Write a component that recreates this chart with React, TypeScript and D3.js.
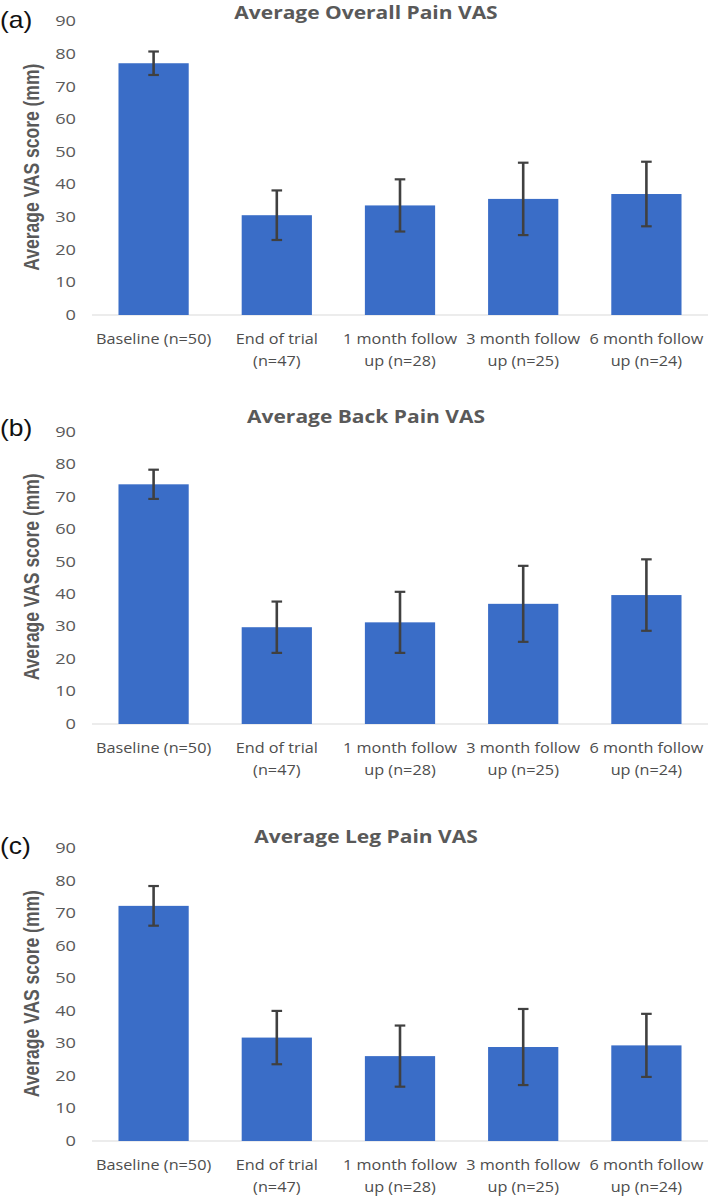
import React from "react";
import * as d3 from "d3";

const categories: string[][] = [
  ["Baseline (n=50)"],
  ["End of trial", "(n=47)"],
  ["1 month follow", "up (n=28)"],
  ["3 month follow", "up (n=25)"],
  ["6 month follow", "up (n=24)"],
];
const yTicks = [0, 10, 20, 30, 40, 50, 60, 70, 80, 90];

const titles = ["Average Overall Pain VAS", "Average Back Pain VAS", "Average Leg Pain VAS"];
const panelLabels = ["(a)", "(b)", "(c)"];
const yAxisTitle = "Average VAS score (mm)";

const overallMean = [77.2, 30.6, 33.6, 35.6, 37.1];
const overallErr = [3.6, 7.6, 8.0, 11.1, 9.9];
const backMean = [73.8, 29.8, 31.3, 37.0, 39.7];
const backErr = [4.5, 7.9, 9.4, 11.7, 11.0];
const legMean = [72.3, 31.8, 26.1, 28.9, 29.4];
const legErr = [6.1, 8.2, 9.4, 11.7, 9.7];

const seriesMeans = [overallMean, backMean, legMean];
const seriesErrs = [overallErr, backErr, legErr];

// layout per panel
const layouts = [
  { top: 21.5, bottom: 315, titleY: 12.5, labelY: 20 },
  { top: 431.7, bottom: 724, titleY: 416.5, labelY: 428 },
  { top: 848.3, bottom: 1141, titleY: 836.5, labelY: 846 },
];

const W = 709;
const H = 1198;
const plotLeft = 92;
const plotRight = 708;
const titleCX = 366;
const BAR = "#3a6dc7";
const ERR = "#404040";
const GREY = "#595959";
const SANS = "'Open Sans', sans-serif";
const ARIAL = "'Liberation Sans', Arial, sans-serif";

function Panel({ idx }: { idx: number }) {
  const L = layouts[idx];
  const means = seriesMeans[idx];
  const errs = seriesErrs[idx];
  const x = d3
    .scaleBand<number>()
    .domain(d3.range(categories.length))
    .range([plotLeft, plotRight])
    .paddingInner(0.43)
    .paddingOuter(0.215);
  const y = d3.scaleLinear().domain([0, 90]).range([L.bottom, L.top]);
  const bw = x.bandwidth();
  return (
    <g>
      <text
        transform={`translate(0,${L.labelY}) scale(1.15,1)`}
        dy="0.35em"
        fontFamily={ARIAL}
        fontSize={23}
        fill="#111"
      >
        {panelLabels[idx]}
      </text>
      <text
        transform={`translate(${titleCX},${L.titleY}) scale(1.2,1)`}
        dy="0.35em"
        textAnchor="middle"
        fontFamily={SANS}
        fontWeight="bold"
        fontSize={17.5}
        fill={GREY}
      >
        {titles[idx]}
      </text>
      <text
        transform={`translate(31,${(L.top + L.bottom) / 2 - 1}) scale(1.25,1) rotate(-90)`}
        textAnchor="middle"
        dy="0.35em"
        fontFamily={ARIAL}
        fontWeight="bold"
        fontSize={17.5}
        fill={GREY}
      >
        {yAxisTitle}
      </text>
      {yTicks.map((t) => (
        <text
          key={t}
          transform={`translate(76,${y(t)}) scale(1.3,1)`}
          dy="0.35em"
          textAnchor="end"
          fontFamily={SANS}
          fontSize={14}
          fill={GREY}
        >
          {t}
        </text>
      ))}
      <line x1={plotLeft} x2={plotRight} y1={y(0)} y2={y(0)} stroke="#d9d9d9" strokeWidth={1.2} />
      {means.map((m, i) => {
        const x0 = x(i)!;
        const cx = x0 + bw / 2;
        const e = errs[i];
        return (
          <g key={i}>
            <rect x={x0} y={y(m)} width={bw} height={y(0) - y(m)} fill={BAR} />
            <line x1={cx} x2={cx} y1={y(m + e)} y2={y(m - e)} stroke={ERR} strokeWidth={2.6} />
            <line x1={cx - 5.3} x2={cx + 5.3} y1={y(m + e)} y2={y(m + e)} stroke={ERR} strokeWidth={2.2} />
            <line x1={cx - 5.3} x2={cx + 5.3} y1={y(m - e)} y2={y(m - e)} stroke={ERR} strokeWidth={2.2} />
          </g>
        );
      })}
      {categories.map((lines, i) => {
        const cx = x(i)! + bw / 2;
        return lines.map((ln, j) => (
          <text
            key={`${i}-${j}`}
            transform={`translate(${cx},${y(0) + 24.5 + j * 22}) scale(1.16,1)`}
            dy="0.35em"
            textAnchor="middle"
            fontFamily={SANS}
            fontSize={14}
            fill="#4d4d4d"
          >
            {ln}
          </text>
        ));
      })}
    </g>
  );
}

export default function App() {
  return (
    <svg
      width={W}
      height={H}
      viewBox={`0 0 ${W} ${H}`}
      style={{ position: "absolute", left: 0, top: 0, background: "#fff" }}
    >
      <rect width={W} height={H} fill="#fff" />
      {[0, 1, 2].map((i) => (
        <Panel key={i} idx={i} />
      ))}
    </svg>
  );
}
